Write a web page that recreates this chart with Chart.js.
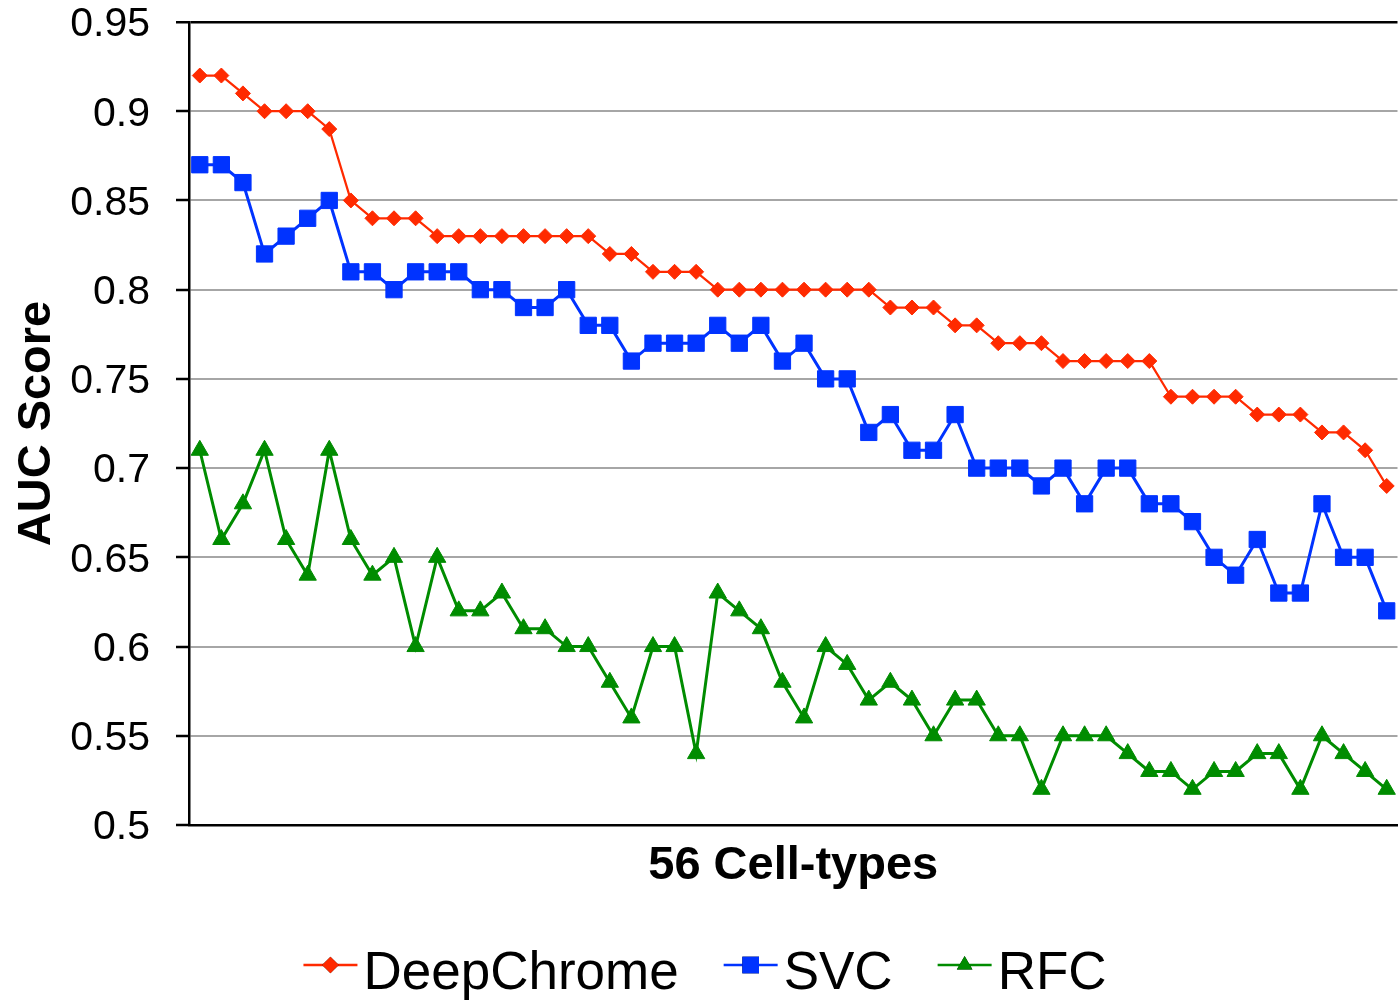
<!DOCTYPE html>
<html>
<head>
<meta charset="utf-8">
<title>AUC Score by cell-type</title>
<script src="https://cdn.jsdelivr.net/npm/chart.js@4/dist/chart.umd.min.js"></script>
<style>
  html, body { margin: 0; padding: 0; background: #fff; overflow: hidden; width: 1400px; height: 1000px; }
  #wrap { width: 1410px; height: 1000px; }
</style>
</head>
<body>
<div id="wrap"><canvas id="auc" width="1410" height="1000"></canvas></div>
<script>
// 56 cell-types, sorted by DeepChrome score
var cellTypes = [];
for (var i = 1; i <= 56; i++) cellTypes.push('Cell ' + i);

var deepChrome = [
  0.92, 0.92, 0.91, 0.90, 0.90, 0.90, 0.89, 0.85, 0.84, 0.84,
  0.84, 0.83, 0.83, 0.83, 0.83, 0.83, 0.83, 0.83, 0.83, 0.82,
  0.82, 0.81, 0.81, 0.81, 0.80, 0.80, 0.80, 0.80, 0.80, 0.80,
  0.80, 0.80, 0.79, 0.79, 0.79, 0.78, 0.78, 0.77, 0.77, 0.77,
  0.76, 0.76, 0.76, 0.76, 0.76, 0.74, 0.74, 0.74, 0.74, 0.73,
  0.73, 0.73, 0.72, 0.72, 0.71, 0.69
];
var svc = [
  0.87, 0.87, 0.86, 0.82, 0.83, 0.84, 0.85, 0.81, 0.81, 0.80,
  0.81, 0.81, 0.81, 0.80, 0.80, 0.79, 0.79, 0.80, 0.78, 0.78,
  0.76, 0.77, 0.77, 0.77, 0.78, 0.77, 0.78, 0.76, 0.77, 0.75,
  0.75, 0.72, 0.73, 0.71, 0.71, 0.73, 0.70, 0.70, 0.70, 0.69,
  0.70, 0.68, 0.70, 0.70, 0.68, 0.68, 0.67, 0.65, 0.64, 0.66,
  0.63, 0.63, 0.68, 0.65, 0.65, 0.62
];
var rfc = [
  0.71, 0.66, 0.68, 0.71, 0.66, 0.64, 0.71, 0.66, 0.64, 0.65,
  0.60, 0.65, 0.62, 0.62, 0.63, 0.61, 0.61, 0.60, 0.60, 0.58,
  0.56, 0.60, 0.60, 0.54, 0.63, 0.62, 0.61, 0.58, 0.56, 0.60,
  0.59, 0.57, 0.58, 0.57, 0.55, 0.57, 0.57, 0.55, 0.55, 0.52,
  0.55, 0.55, 0.55, 0.54, 0.53, 0.53, 0.52, 0.53, 0.53, 0.54,
  0.54, 0.52, 0.55, 0.54, 0.53, 0.52
];

var fontFamily = '"Liberation Sans", Arial, Helvetica, sans-serif';
var xTitle = '56 Cell-types';

function series(label, values, color, shape, radius, width, legendRadius) {
  return {
    label: label,
    data: values,
    borderColor: color,
    backgroundColor: color,
    borderWidth: width,
    pointStyle: shape,
    pointRadius: radius,
    pointHoverRadius: radius,
    pointBorderWidth: 1,
    pointBorderColor: color,
    pointBackgroundColor: color,
    legendRadius: legendRadius,
    tension: 0
  };
}

// x title and a legend with a short line through each marker
var bottomText = {
  id: 'bottomText',
  afterDraw: function (chart) {
    var ctx = chart.ctx;
    var area = chart.chartArea;
    ctx.save();
    ctx.fillStyle = '#000';
    ctx.textAlign = 'center';
    ctx.textBaseline = 'alphabetic';
    ctx.font = 'bold 47px ' + fontFamily;
    ctx.fillText(xTitle, (area.left + area.right) / 2, area.bottom + 54);

    var sets = chart.data.datasets;
    var lineLen = 54, gap = 6, spacing = 45;
    ctx.font = '53px ' + fontFamily;
    ctx.textAlign = 'left';
    var total = 0;
    sets.forEach(function (ds, k) {
      total += lineLen + gap + ctx.measureText(ds.label).width;
      if (k < sets.length - 1) total += spacing;
    });
    var x = chart.width / 2 - total / 2;
    var lineY = 965, textY = 989;
    sets.forEach(function (ds) {
      ctx.strokeStyle = ds.borderColor;
      ctx.lineWidth = 2.5;
      ctx.beginPath();
      ctx.moveTo(x, lineY);
      ctx.lineTo(x + lineLen, lineY);
      ctx.stroke();
      Chart.helpers.drawPoint(ctx, {
        pointStyle: ds.pointStyle,
        radius: ds.legendRadius,
        borderWidth: 0,
        rotation: 0
      }, x + lineLen / 2, lineY);
      ctx.fillStyle = ds.borderColor;
      ctx.fill();
      ctx.fillStyle = '#000';
      ctx.fillText(ds.label, x + lineLen + gap, textY);
      x += lineLen + gap + ctx.measureText(ds.label).width + spacing;
    });
    ctx.restore();
  }
};

var ctx = document.getElementById('auc').getContext('2d');
var aucChart = new Chart(ctx, {
  type: 'line',
  data: {
    labels: cellTypes,
    datasets: [
      series('DeepChrome', deepChrome, '#ff2a00', 'rectRot', 7.5, 2.25, 8.3),
      series('SVC', svc, '#0033ff', 'rect', 11.5, 3, 11.8),
      series('RFC', rfc, '#008c00', 'triangle', 10, 3, 9)
    ]
  },
  options: {
    responsive: false,
    animation: false,
    layout: { padding: { top: 22, right: 6, bottom: 111, left: 0 } },
    plugins: {
      legend: { display: false },
      tooltip: { enabled: false }
    },
    scales: {
      x: {
        type: 'category',
        offset: true,
        ticks: { display: false },
        grid: { display: false, drawTicks: false },
        border: { display: true, color: '#000', width: 2.5 },
        afterFit: function (scale) { scale.height = 64; }
      },
      y: {
        min: 0.5,
        max: 0.95,
        ticks: {
          stepSize: 0.05,
          padding: 26,
          labelOffset: 3,
          color: '#000',
          font: { family: fontFamily, size: 41 },
          callback: function (v) { return String(parseFloat(v.toFixed(2))); }
        },
        grid: {
          color: function (c) {
            return c.tick && Math.abs(c.tick.value - 0.95) < 1e-6 ? '#000' : '#a6a6a6';
          },
          lineWidth: function (c) {
            return c.tick && Math.abs(c.tick.value - 0.95) < 1e-6 ? 2.5 : 2;
          },
          tickColor: '#000',
          tickLength: 13,
          tickWidth: 2.5
        },
        border: { display: true, color: '#000', width: 2.5 },
        title: {
          display: true,
          text: 'AUC Score',
          color: '#000',
          font: { family: fontFamily, size: 47, weight: 'bold' },
          padding: { top: 9, bottom: 0 }
        },
        afterFit: function (scale) {
          scale.width = 189;
          scale.paddingTop = 0;
          scale.paddingBottom = 0;
        }
      }
    }
  },
  plugins: [bottomText]
});
</script>
</body>
</html>
